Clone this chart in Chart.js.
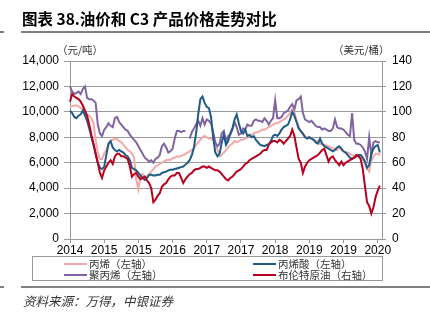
<!DOCTYPE html>
<html>
<head>
<meta charset="utf-8">
<script src="https://cdn.jsdelivr.net/npm/chart.js@4.4.1/dist/chart.umd.min.js"></script>
<style>
  body { margin: 0; width: 430px; height: 324px; background: #fff; position: relative; overflow: hidden; font-family: "Noto Sans CJK SC", sans-serif; }
  #wrap { position: absolute; left: 0; top: 0; width: 430px; height: 324px; }
  .title { position: absolute; left: 22px; top: 7px; font-size: 15.5px; font-weight: bold; color: #000; white-space: nowrap; }
  .rule { position: absolute; height: 2px; background: #808080; }
  .unit { position: absolute; top: 42px; font-size: 10.5px; color: #333; white-space: nowrap; }
  .legend { position: absolute; left: 32px; top: 256px; width: 351px; height: 25px; border: 1px solid #999; box-sizing: border-box; }
  .item { position: absolute; font-size: 10.5px; color: #333; white-space: nowrap; line-height: 12px; }
  .item i { display: inline-block; width: 23px; height: 2px; vertical-align: middle; margin-right: 2px; position: relative; top: -1px; }
  .source { position: absolute; left: 23px; top: 291px; font-size: 12.5px; font-style: italic; color: #333; white-space: nowrap; }
</style>
</head>
<body>
<div id="wrap"><canvas id="myChart" width="430" height="324"></canvas></div>
<div class="title">图表 38.油价和 C3 产品价格走势对比</div>
<div class="rule" style="left:0;top:31px;width:4px;"></div>
<div class="rule" style="left:21px;top:31px;width:409px;"></div>
<div class="unit" style="left:57px;">（元/吨）</div>
<div class="unit" style="left:333px;">（美元/桶）</div>
<div class="legend">
  <div class="item" style="left:31px;top:1px;"><i style="background:#f2aaa8"></i>丙烯（左轴）</div>
  <div class="item" style="left:220px;top:1px;"><i style="background:#1f5b87"></i>丙烯酸（左轴）</div>
  <div class="item" style="left:31px;top:12px;"><i style="background:#8064a2"></i>聚丙烯（左轴）</div>
  <div class="item" style="left:220px;top:12px;"><i style="background:#b8001f"></i>布伦特原油（右轴）</div>
</div>
<div class="rule" style="left:0;top:286px;width:4px;"></div>
<div class="rule" style="left:21px;top:286px;width:409px;"></div>
<div class="source">资料来源：万得，中银证券</div>

<script>
// semi-monthly points, Jun 2014 .. Jul 2020
let categories = [];
for (let i = 0; i < 147; i++) {
    let m = 5 + Math.floor(i / 2);
    let y = 2014 + Math.floor(m / 12);
    categories.push(y + '-' + String(m % 12 + 1).padStart(2, '0') + (i % 2 ? '-15' : '-01'));
}
const xTickLabels = ['2014', '2015', '2015', '2016', '2017', '2017', '2018', '2019', '2019', '2020'];
const tickEvery = 16;

// 丙烯 (元/吨)
const propylene = [
    10400, 10450, 10500, 10500, 10450, 10300, 10200, 9900, 9800, 9700,
    9500, 9100, 7800, 6800, 6300, 6300, 6700, 7000, 7400, 7700,
    7800, 7900, 7850, 7700, 7600, 7400, 7200, 7000, 6900, 6700,
    6400, 4700, 3900, 5000, 5100, 4900, 4900, 5100, 5300, 5500,
    5700, 5800, 5900, 6000, 6100, 6200, 6250, 6200, 6350, 6400,
    6500, 6450, 6550, 6600, 6700, 6800, 6900, 7000, 7150, 7400,
    7600, 7800, 8000, 8100, 8000, 7900, 7900, 7800, 7600, 7000,
    6500, 6600, 6800, 7000, 7200, 7400, 7500, 7700, 7600, 7700,
    7800, 7800, 7900, 8000, 8100, 8200, 8300, 8400, 8400, 8500,
    8600, 8600, 8700, 8800, 8900, 9000, 9100, 9100, 9200, 9300,
    9400, 9500, 9700, 9900, 10200, 10000, 9300, 8900, 8400, 8200,
    8100, 8000, 8000, 7900, 7800, 7700, 7700, 7500, 7500, 7400,
    7350, 7300, 7200, 7100, 7100, 7000, 7200, 7000, 6900, 6800,
    6800, 6700, 6600, 6550, 6600, 6500, 6400, 6300, 6000, 5500,
    5300, 6200, 6500, 6700, 6700, 6600
];

// 丙烯酸 (元/吨)
const acrylicAcid = [
    10100, 9900, 9600, 9500, 9700, 9800, 10100, 9700, 9300, 8700,
    8000, 7400, 6700, 6000, 5600, 5500, 5700, 6600, 7500, 7700,
    7200, 7000, 6900, 7000, 6900, 6800, 6600, 6500, 6200, 5600,
    5500, 5400, 5200, 5000, 4800, 4650, 4800, 5050, 5050, 5000,
    5000, 5050, 5050, 5200, 5250, 5300, 5400, 5450, 5450, 5500,
    5550, 5600, 5650, 5700, 5850, 6000, 6200, 6600, 7200, 8300,
    9800, 11000, 11200, 10700, 10400, 10300, 9600, 8000, 6800, 6500,
    6700, 7600, 8200, 7400, 7700, 8300, 8700, 9400, 9800, 9100,
    8500, 8300, 8600, 8100, 8200, 8000, 8100, 7800, 7600, 7400,
    7350, 7300, 7400, 7450, 7700, 8100, 8200, 8100, 8300, 8600,
    8800, 8900, 9000, 9400, 10000, 9700, 9200, 8700, 8500, 8300,
    8000, 7900, 8000, 7900, 7800, 7600, 7500, 7900, 7500, 7300,
    7200, 7100, 7000, 6900, 7000, 7200, 7300, 7100, 6900, 6800,
    6600, 6400, 6300, 6400, 6500, 6600, 6600, 6400, 6100, 5600,
    5800, 6700, 7100, 7300, 7400, 6800
];

// 聚丙烯 (元/吨), one missing point
const polypropylene = [
    12000, 11600, 11400, 11500, 11600, 11400, 11800, 12000, 11100, 11000,
    11000, 10900, 10700, 9000, 8300, 8100, 8600, 8800, 9100, 8900,
    8800, 9500, 9600, 9200, 9000, 8800, 8600, 8500, 8200, 8000,
    7800, 7600, 7300, 7000, 6700, 6400, 6250, 6100, 6200, 6000,
    6300, 6400, 6600, 7300, 7500, 7200, 6800, 6900, 7100, 7900,
    8500, 8500, 8400, 8500, 8500, null, 7900, 8400, 8700, 9000,
    9300, 8900, 9500, 9000, 9400, 9300, 9100, 8400, 7600, 7300,
    7500, 8300, 8500, 7700, 8100, 8200, 8600, 9200, 8800, 8200,
    8300, 8700, 8600, 9000, 8900, 8900, 9300, 9400, 9300, 9300,
    9200, 9500, 9300, 9000, 9300, 9500, 10900, 9500, 9500, 9600,
    9900, 10000, 10100, 10400, 10600, 10200, 10900, 11000, 11200, 9900,
    9400, 9300, 9200, 9300, 9100, 8900, 8800, 8800, 8600, 8700,
    8600, 8500, 8500, 8700, 9400, 8800, 8700, 8700, 8600, 8400,
    8200, 8100, 9900, 7800, 7500, 7500, 7400, 7200, 6900, 6300,
    8000, 6600, 7600, 7700, 7600, 7600
];

// 布伦特原油 (美元/桶)
const brent = [
    108, 114, 112, 111, 110, 108, 105, 101, 97, 90,
    82, 75, 67, 60, 52, 48, 54, 57, 60, 62,
    59, 65, 67, 67, 65, 65, 64, 63, 57, 49,
    51, 52, 49, 47, 48, 49, 46, 44, 40, 29,
    31, 34, 36, 41, 43, 44, 47, 49, 50, 50,
    52, 52, 48, 44, 47, 49, 51, 52, 54, 55,
    55, 56, 57, 57, 56, 57, 56, 55, 54, 54,
    53, 51, 49, 47, 46, 48, 49, 51, 53, 54,
    55, 57, 59, 60, 62, 63, 64, 65, 66, 67,
    69, 70, 70, 74, 76, 77, 77, 76, 78, 77,
    75, 77, 79, 81, 86, 81, 72, 63, 60, 52,
    57, 60, 62, 63, 64, 65, 66, 68, 70, 71,
    66, 61, 64, 65, 62, 60, 58, 61, 58, 60,
    61, 62, 63, 64, 66, 65, 63, 55, 42, 29,
    26, 20, 25, 33, 38, 42
];

const tickFont = { family: "'Liberation Sans Narrow', 'Liberation Sans', Arial, sans-serif", size: 12 };

const data = {
    labels: categories,
    datasets: [
        { label: '布伦特原油（右轴）', data: brent, yAxisID: 'y1', borderColor: '#b8001f', order: 0 },
        { label: '丙烯酸（左轴）', data: acrylicAcid, yAxisID: 'y', borderColor: '#1f5b87', order: 1 },
        { label: '聚丙烯（左轴）', data: polypropylene, yAxisID: 'y', borderColor: '#8064a2', order: 2 },
        { label: '丙烯（左轴）', data: propylene, yAxisID: 'y', borderColor: '#f2aaa8', order: 3 }
    ]
};

const config = {
    type: 'line',
    data: data,
    options: {
        responsive: false,
        animation: false,
        spanGaps: false,
        layout: { padding: { top: 61, left: 0, right: 0, bottom: 0 } },
        elements: {
            point: { radius: 0 },
            line: { borderWidth: 2, tension: 0 }
        },
        plugins: { legend: { display: false }, tooltip: { enabled: false } },
        scales: {
            x: {
                type: 'category',
                offset: false,
                grid: { drawOnChartArea: false, drawTicks: true, tickLength: 4, color: '#999' },
                border: { color: '#999' },
                ticks: {
                    autoSkip: false, maxRotation: 0, minRotation: 0, padding: 0,
                    color: '#000', font: tickFont,
                    callback: function (v, i) {
                        return i % tickEvery === 0 ? xTickLabels[i / tickEvery] : null;
                    }
                },
                afterFit: function (s) { s.height = 85; }
            },
            y: {
                position: 'left',
                min: 0, max: 14000,
                grid: { color: '#9a9a9a', tickLength: 6 },
                border: { color: '#999' },
                ticks: {
                    stepSize: 2000, padding: 5, color: '#000', font: tickFont,
                    callback: v => v.toLocaleString('en-US')
                },
                afterFit: function (s) { s.width = 70; }
            },
            y1: {
                position: 'right',
                min: 0, max: 140,
                grid: { drawOnChartArea: false, color: '#999', tickLength: 4 },
                border: { color: '#999' },
                ticks: { stepSize: 20, padding: 6, color: '#000', font: tickFont },
                afterFit: function (s) { s.width = 48; }
            }
        }
    }
};

var myChart = new Chart(document.getElementById('myChart'), config);
</script>
</body>
</html>
